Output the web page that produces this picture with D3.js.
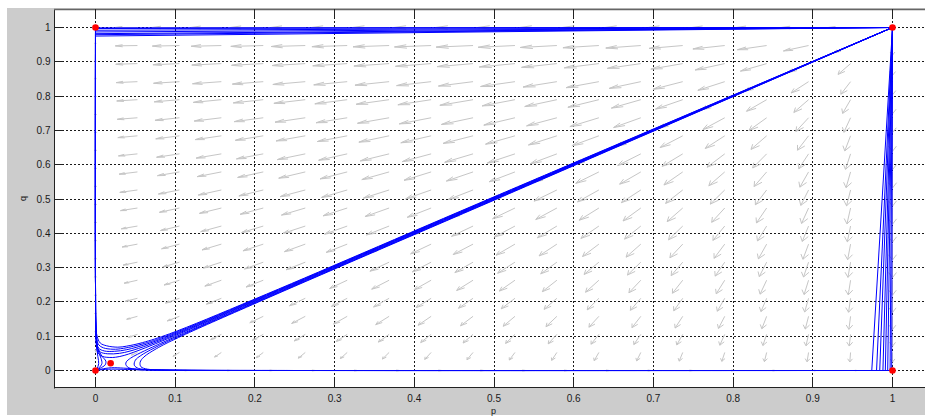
<!DOCTYPE html>
<html><head><meta charset="utf-8">
<script src="https://cdn.jsdelivr.net/npm/d3@7"></script>
<style>html,body{margin:0;padding:0;background:#fff;overflow:hidden}</style>
</head><body>
<svg id="chart" width="925" height="416"></svg>
<script>
// ---------- data ----------
const xTicks = [0, 0.1, 0.2, 0.3, 0.4, 0.5, 0.6, 0.7, 0.8, 0.9, 1];
const yTicks = [0, 0.1, 0.2, 0.3, 0.4, 0.5, 0.6, 0.7, 0.8, 0.9, 1];
const xTickLabels = ["0", "0.1", "0.2", "0.3", "0.4", "0.5", "0.6", "0.7", "0.8", "0.9", "1"];
const yTickLabels = ["0", "0.1", "0.2", "0.3", "0.4", "0.5", "0.6", "0.7", "0.8", "0.9", "1"];
const xLabel = "p";
const yLabel = "q";

// quiver grid (20 x 20)
const gridP = [0, 0.0526, 0.1053, 0.1579, 0.2105, 0.2632, 0.3158, 0.3684, 0.4211, 0.4737,
               0.5263, 0.5789, 0.6316, 0.6842, 0.7368, 0.7895, 0.8421, 0.8947, 0.9474, 1];
const gridQ = [0, 0.0526, 0.1053, 0.1579, 0.2105, 0.2632, 0.3158, 0.3684, 0.4211, 0.4737,
               0.5263, 0.5789, 0.6316, 0.6842, 0.7368, 0.7895, 0.8421, 0.8947, 0.9474, 1];
// strength of the p-flow per column and of the q-flow per row
const rateP = [0, 0.0499, 0.0942, 0.1330, 0.1662, 0.1939, 0.2161, 0.2327, 0.2438, 0.2493,
               0.2493, 0.2438, 0.2327, 0.2161, 0.1939, 0.1662, 0.1330, 0.0942, 0.0499, 0];
const rateQ = [0, 0.0499, 0.0942, 0.1330, 0.1662, 0.1939, 0.2161, 0.2327, 0.2438, 0.2493,
               0.2493, 0.2438, 0.2327, 0.2161, 0.1939, 0.1662, 0.1330, 0.0942, 0.0499, 0];
// pull on p per row (q side) and pull on q per column (p side)
const pullQ = [-0.02, 0.0326, 0.0853, 0.1379, 0.1905, 0.2432, 0.2958, 0.3484, 0.4011, 0.4537,
               0.5063, 0.5589, 0.6116, 0.6642, 0.7168, 0.7695, 0.8221, 0.8747, 0.9274, 0.98];
const pullP = [-0.02, 0.0326, 0.0853, 0.1379, 0.1905, 0.2432, 0.2958, 0.3484, 0.4011, 0.4537,
               0.5063, 0.5589, 0.6116, 0.6642, 0.7168, 0.7695, 0.8221, 0.8747, 0.9274, 0.98];

// equilibrium points (red)
const equilibria = [[0, 0], [0, 1], [1, 0], [1, 1], [0.019, 0.021]];

// trajectories
const topBundleEnds = [0.999, 0.997, 0.992, 0.987, 0.982, 0.979, 0.975];
const rightBundleEnds = [0.999, 0.997, 0.994, 0.991, 0.988, 0.984, 0.98, 0.974];

const saddleUpPaths = [
  [[1,1],[0.5,0.5009],[0.2,0.2012],[0.099,0.101],[0.0684,0.0716],[0.0473,0.0527],[0.036,0.044],[0.0253,0.0387],[0.018,0.038],[0.009,0.041],[0.003,0.052],[0.001,0.075],[0.0003,0.12],[0,0.25],[0,1]],
  [[1,1],[0.5,0.5022],[0.2,0.203],[0.0975,0.1025],[0.066,0.074],[0.0433,0.0567],[0.03,0.05],[0.0153,0.0487],[0.006,0.054],[0.002,0.068],[0.0006,0.1],[0.0002,0.14],[0,0.25],[0,1]],
  [[1,1],[0.5,0.5036],[0.2,0.2048],[0.096,0.104],[0.0636,0.0764],[0.0393,0.0607],[0.024,0.056],[0.011,0.057],[0.004,0.065],[0.0015,0.085],[0.0004,0.12],[0,0.25],[0,1]],
  [[1,1],[0.5,0.505],[0.2,0.2066],[0.0945,0.1055],[0.0612,0.0788],[0.0353,0.0647],[0.022,0.062],[0.01,0.066],[0.004,0.075],[0.0015,0.095],[0.0004,0.13],[0,0.25],[0,1]],
  [[1,1],[0.5,0.5063],[0.2,0.2084],[0.093,0.107],[0.0588,0.0812],[0.039,0.071],[0.028,0.068],[0.014,0.072],[0.006,0.08],[0.002,0.1],[0.0005,0.135],[0,0.25],[0,1]]
];
const saddleRightPaths = [
  [[1,1],[0.5009,0.5],[0.2012,0.2],[0.101,0.099],[0.0716,0.0684],[0.0527,0.0473],[0.044,0.036],[0.0387,0.0253],[0.038,0.018],[0.041,0.009],[0.052,0.003],[0.075,0.001],[0.12,0.0003],[0.25,0],[1,0]],
  [[1,1],[0.5022,0.5],[0.203,0.2],[0.1025,0.0975],[0.074,0.066],[0.0567,0.0433],[0.05,0.03],[0.0487,0.0153],[0.054,0.006],[0.068,0.002],[0.1,0.0006],[0.14,0.0002],[0.25,0],[1,0]],
  [[1,1],[0.5036,0.5],[0.2048,0.2],[0.104,0.096],[0.0764,0.0636],[0.0607,0.0393],[0.056,0.024],[0.057,0.011],[0.065,0.004],[0.085,0.0015],[0.12,0.0004],[0.25,0],[1,0]]
];
const originUpPaths = [
  [[0.0005,0.0008],[0.002,0.006],[0.004,0.02],[0.003,0.04],[0.0015,0.07],[0.0005,0.12],[0,0.25],[0,1]],
  [[0.0005,0.0006],[0.004,0.007],[0.008,0.02],[0.007,0.035],[0.003,0.06],[0.001,0.1],[0,0.25],[0,1]],
  [[0.0005,0.0005],[0.006,0.007],[0.012,0.016],[0.013,0.027],[0.008,0.042],[0.003,0.065],[0.001,0.1],[0,0.25],[0,1]]
];
const originRightPaths = [
  [[0.0008,0.0005],[0.006,0.002],[0.02,0.004],[0.04,0.003],[0.07,0.0015],[0.12,0.0005],[0.25,0],[1,0]],
  [[0.0006,0.0005],[0.007,0.004],[0.02,0.008],[0.035,0.007],[0.06,0.003],[0.1,0.001],[0.25,0],[1,0]]
];

// ---------- drawing ----------
const W = 925, H = 416;
const svg = d3.select("#chart");
const box = {left: 54, top: 9, right: 933, bottom: 388};

const x = d3.scaleLinear().domain([0, 1]).range([95.5, 892.5]);
const y = d3.scaleLinear().domain([0, 1]).range([370.5, 27.5]);
const snap = v => Math.floor(v) + 0.5;

svg.append("rect").attr("width", W).attr("height", H).attr("fill", "#ffffff");
svg.append("rect").attr("x", 7).attr("y", 8).attr("width", W - 7).attr("height", 415 - 8).attr("fill", "#cccccc");
svg.append("rect").attr("x", box.left).attr("y", box.top)
   .attr("width", box.right - box.left).attr("height", box.bottom - box.top).attr("fill", "#ffffff");

svg.append("defs").append("clipPath").attr("id", "clip")
   .append("rect").attr("x", box.left).attr("y", box.top)
   .attr("width", box.right - box.left).attr("height", box.bottom - box.top);

// grid
const grid = svg.append("g").attr("stroke", "#1a1a1a").attr("stroke-width", 1)
   .attr("stroke-dasharray", "2,2").attr("fill", "none");
xTicks.forEach(t => {
  grid.append("line").attr("x1", snap(x(t))).attr("x2", snap(x(t)))
      .attr("y1", box.top).attr("y2", box.bottom);
});
yTicks.forEach(t => {
  grid.append("line").attr("y1", snap(y(t))).attr("y2", snap(y(t)))
      .attr("x1", box.left).attr("x2", box.right);
});

const plot = svg.append("g").attr("clip-path", "url(#clip)");

// quiver
const lenScale = d3.scalePow().exponent(0.32).domain([0, 1]).range([0, 0.0741]);
const alpha = 0.33, beta = 0.33;
const arrows = [];
gridQ.forEach((q, i) => {
  gridP.forEach((p, j) => {
    const u0 = -rateP[j] * pullQ[i];
    const v0 = -rateQ[i] * pullP[j];
    const m = Math.hypot(u0, v0);
    if (m === 0) return;
    const L = lenScale(m);
    arrows.push({p, q, u: u0 / m * L, v: v0 / m * L});
  });
});
const qpath = d3.path();
arrows.forEach(a => {
  const {p, q, u, v} = a;
  qpath.moveTo(x(p), y(q));
  qpath.lineTo(x(p + u), y(q + v));
  const e = 1e-12;
  qpath.moveTo(x(p + u - alpha * (u + beta * (v + e))), y(q + v - alpha * (v - beta * (u + e))));
  qpath.lineTo(x(p + u), y(q + v));
  qpath.lineTo(x(p + u - alpha * (u - beta * (v + e))), y(q + v - alpha * (v + beta * (u + e))));
});
plot.append("path").attr("d", qpath.toString()).attr("fill", "none")
    .attr("stroke", "#c6c6c6").attr("stroke-width", 1);

// trajectories
const lineStraight = d3.line().x(d => x(d[0])).y(d => y(d[1]));
const lineSmooth = d3.line().x(d => x(d[0])).y(d => y(d[1])).curve(d3.curveCatmullRom.alpha(0.5));
const traj = plot.append("g").attr("fill", "none").attr("stroke", "#0000ff").attr("stroke-width", 1);
topBundleEnds.forEach(e => traj.append("path").attr("d", lineStraight([[1, 1], [0, e], [0, 1]])));
rightBundleEnds.forEach(e => traj.append("path").attr("d", lineStraight([[1, 1], [e, 0], [1, 0]])));
[...saddleUpPaths, ...saddleRightPaths, ...originUpPaths, ...originRightPaths]
  .forEach(pts => traj.append("path").attr("d", lineSmooth(pts)));

// equilibria
plot.append("g").selectAll("circle").data(equilibria).join("circle")
    .attr("cx", d => x(d[0])).attr("cy", d => y(d[1])).attr("r", 3.3).attr("fill", "#ff0000");

// axes box & ticks
const ax = svg.append("g").attr("stroke", "#222").attr("stroke-width", 1).attr("fill", "none");
ax.append("line").attr("x1", box.left + 0.5).attr("x2", box.left + 0.5).attr("y1", box.top).attr("y2", box.bottom + 0.5);
ax.append("line").attr("x1", box.left).attr("x2", box.right).attr("y1", box.bottom - 0.5).attr("y2", box.bottom - 0.5);
ax.append("line").attr("x1", box.left).attr("x2", box.right).attr("y1", box.top + 0.5).attr("y2", box.top + 0.5)
  .attr("stroke", "#666").attr("stroke-width", 1.5);
const tickLen = 9;
xTicks.forEach(t => {
  const xx = snap(x(t));
  ax.append("line").attr("x1", xx).attr("x2", xx).attr("y1", box.bottom).attr("y2", box.bottom - tickLen);
  ax.append("line").attr("x1", xx).attr("x2", xx).attr("y1", box.top).attr("y2", box.top + tickLen);
});
yTicks.forEach(t => {
  const yy = snap(y(t));
  ax.append("line").attr("y1", yy).attr("y2", yy).attr("x1", box.left).attr("x2", box.left + tickLen);
});

// labels
const font = "'Liberation Sans', Arial, Helvetica, sans-serif";
const lab = svg.append("g").attr("font-family", font).attr("font-size", 10).attr("fill", "#1a1a1a");
xTicks.forEach((t, i) => {
  lab.append("text").attr("x", x(t)).attr("y", 402).attr("text-anchor", "middle").text(xTickLabels[i]);
});
yTicks.forEach((t, i) => {
  lab.append("text").attr("x", 50.5).attr("y", y(t)).attr("dy", "0.35em").attr("text-anchor", "end").text(yTickLabels[i]);
});
svg.append("text").attr("x", (box.left + box.right) / 2).attr("y", 414).attr("text-anchor", "middle")
   .attr("font-family", font).attr("font-size", 9).attr("fill", "#1a1a1a").text(xLabel);
svg.append("text").attr("transform", "translate(25.5," + ((box.top + box.bottom) / 2) + ") rotate(-90)")
   .attr("text-anchor", "middle").attr("font-family", font).attr("font-size", 9).attr("fill", "#1a1a1a").text(yLabel);
</script>
</body></html>
